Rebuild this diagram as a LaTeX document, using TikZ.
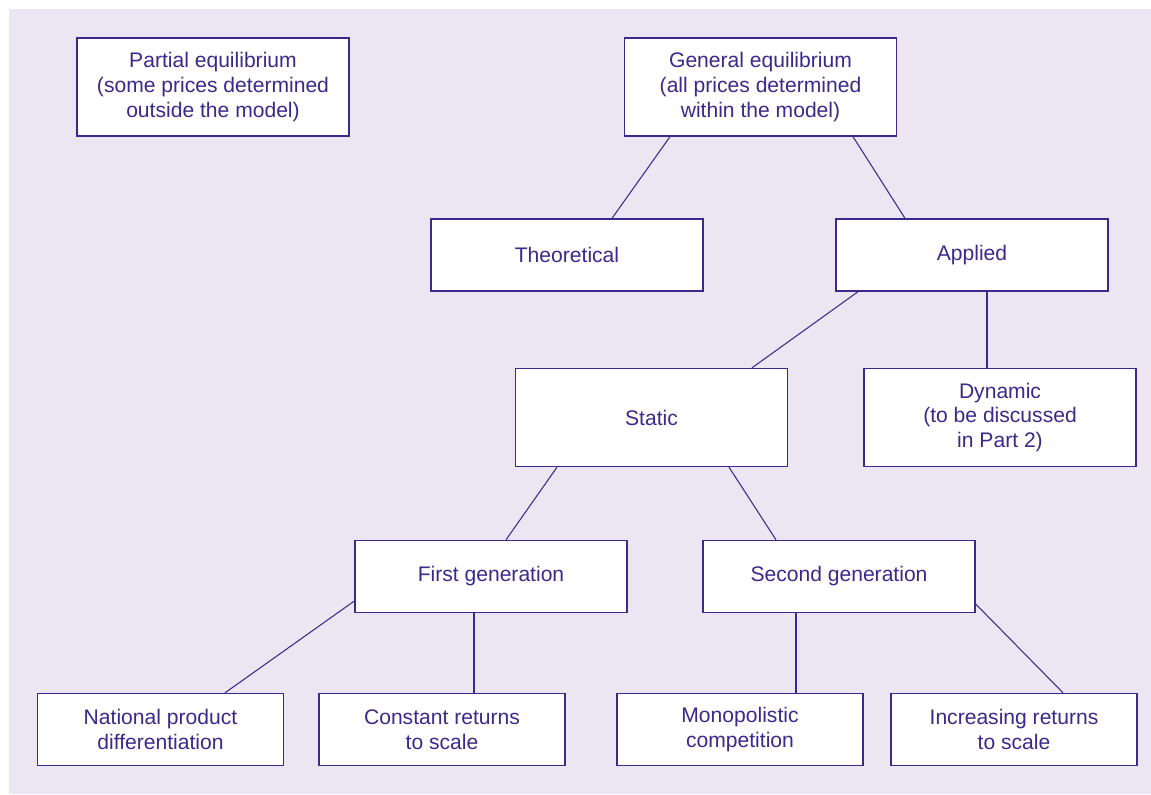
\documentclass[tikz,border=0pt]{standalone}
\usepackage{fontspec}
\setmainfont{Liberation Sans}
\usetikzlibrary{calc}
\definecolor{ink}{RGB}{58,42,140}
\definecolor{lavender}{RGB}{236,230,242}
\tikzset{
	box/.style={draw=ink,line width=0.8pt,fill=white,text=ink,align=center,inner sep=0pt,
		minimum width=5.44cm,font=\fontsize{12}{14.2}\selectfont},
	tallbox/.style={box,minimum height=1.96cm},
	flatbox/.style={box,minimum height=1.44cm},
	leafbox/.style={flatbox,minimum width=4.92cm},
	link/.style={draw=ink,line width=0.6pt}
}
\begin{document}
\begin{tikzpicture}[x=0.02cm,y=-0.02cm]
	\useasboundingbox (0,0) rectangle (1151,794);
	\fill[lavender] (9,9) rectangle (1151,794);
	% top row
	\node[tallbox] (partial) at (213,87) {Partial equilibrium\\(some prices determined\\outside the model)};
	\node[tallbox] (general) at (760.5,87) {General equilibrium\\(all prices determined\\within the model)};
	% second row
	\node[flatbox] (theory) at (567,255) {Theoretical};
	\node[flatbox] (applied) at (972,255) {Applied};
	% third row
	\node[tallbox] (static) at (651.5,417.5) {Static};
	\node[tallbox] (dynamic) at (1000,417.5) {Dynamic\\(to be discussed\\in Part 2)};
	% generations
	\node[flatbox] (firstgen) at (491,576.5) {First generation};
	\node[flatbox] (secondgen) at (839,576.5) {Second generation};
	% bottom row
	\node[leafbox] (national) at (160.5,729.5) {National product\\differentiation};
	\node[leafbox] (constant) at (442,729.5) {Constant returns\\to scale};
	\node[leafbox] (monopoly) at (740,729.5) {Monopolistic\\competition};
	\node[leafbox] (increasing) at (1014,729.5) {Increasing returns\\to scale};
	% connectors
	\draw[link] ($(general.south)+(-90.5,0)$) -- ($(theory.north)+(45,0)$);
	\draw[link] ($(general.south)+(92.5,0)$) -- ($(applied.north)+(-67,0)$);
	\draw[link] ($(applied.south)+(-114,0)$) -- ($(static.north)+(100.5,0)$);
	\draw[link] ($(applied.south)+(15,0)$) -- ($(dynamic.north)+(-13,0)$);
	\draw[link] ($(static.south)+(-94.5,0)$) -- ($(firstgen.north)+(15,0)$);
	\draw[link] ($(static.south)+(77.5,0)$) -- ($(secondgen.north)+(-63,0)$);
	\draw[link] ($(firstgen.west)+(0,24.5)$) -- ($(national.north)+(64.5,0)$);
	\draw[link] ($(firstgen.south)+(-17,0)$) -- ($(constant.north)+(32,0)$);
	\draw[link] ($(secondgen.south)+(-43,0)$) -- ($(monopoly.north)+(56,0)$);
	\draw[link] ($(secondgen.east)+(0,27.5)$) -- ($(increasing.north)+(49,0)$);
\end{tikzpicture}
\end{document}
